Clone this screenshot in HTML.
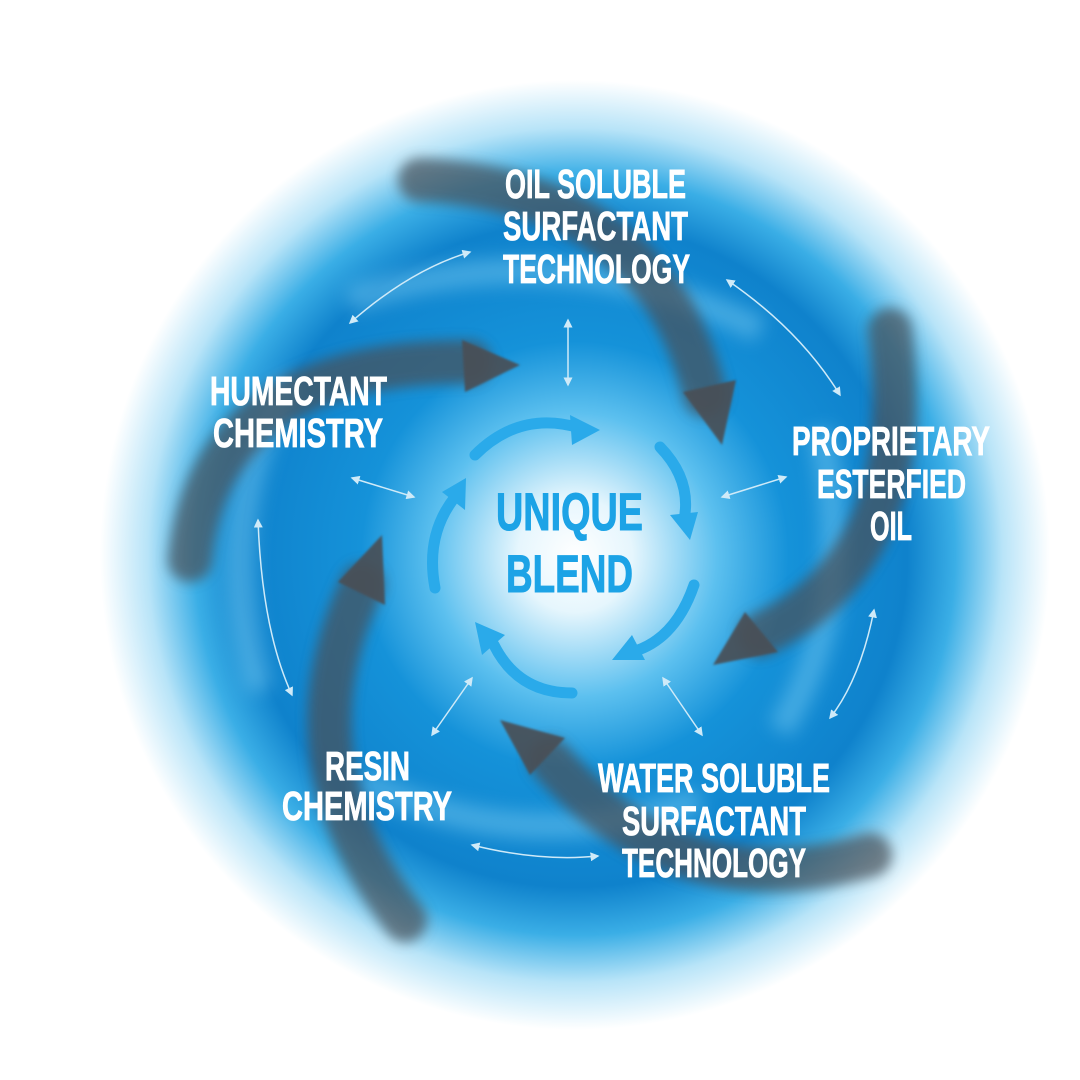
<!DOCTYPE html>
<html><head><meta charset="utf-8"><style>
html,body{margin:0;padding:0;background:#fff;width:1080px;height:1080px;overflow:hidden}
svg{display:block}
.t{font-family:"Liberation Sans",sans-serif;font-weight:bold;fill:#fff;font-size:41px;stroke:#fff;stroke-width:0.8}
.u{font-family:"Liberation Sans",sans-serif;font-weight:bold;fill:#1ca3e6;font-size:53px;stroke:#1ca3e6;stroke-width:1}
</style></head><body>
<svg width="1080" height="1080" viewBox="0 0 1080 1080" xmlns="http://www.w3.org/2000/svg">
<defs>
<radialGradient id="bg" cx="575" cy="555" r="475" gradientUnits="userSpaceOnUse">
<stop offset="0" stop-color="#ffffff"/>
<stop offset="0.12" stop-color="#e6f6fd"/>
<stop offset="0.3" stop-color="#5cc0ef"/>
<stop offset="0.45" stop-color="#1592d9"/>
<stop offset="0.7" stop-color="#0f82cc"/>
<stop offset="0.8" stop-color="#3aaee6"/>
<stop offset="0.9" stop-color="#b8e4f8"/>
<stop offset="1" stop-color="#ffffff"/>
</radialGradient>
<filter id="b8" x="-20%" y="-20%" width="140%" height="140%"><feGaussianBlur stdDeviation="9"/></filter>
<filter id="b5" x="-20%" y="-20%" width="140%" height="140%"><feGaussianBlur stdDeviation="6"/></filter>
<filter id="b1"><feGaussianBlur stdDeviation="1"/></filter>
<marker id="m" markerWidth="6" markerHeight="6" refX="5" refY="3" orient="auto-start-reverse"><path d="M0,0 L6,3 L0,6 z" fill="#cfeaf8"/></marker>
</defs>
<rect width="1080" height="1080" fill="#fff"/>
<circle cx="575" cy="555" r="475" fill="url(#bg)"/>
<g fill="none" stroke="#7fd0f5" stroke-width="26" opacity="0.45" filter="url(#b8)">
<path d="M350,300 Q560,230 760,330"/>
<path d="M820,430 Q860,600 780,730"/>
<path d="M700,800 Q520,860 360,780"/>
<path d="M260,690 Q210,520 290,380"/>
</g>
<!-- dark swirl bodies -->
<g fill="none" stroke="#4a4f56" stroke-width="44" opacity="0.7" filter="url(#b5)" stroke-linecap="round">
<path d="M420,180 Q655,190 705,395"/>
<path d="M890,330 Q920,560 760,635"/>
<path d="M870,855 Q680,910 550,760"/>
<path d="M405,920 Q280,760 362,585"/>
<path d="M190,560 Q210,360 470,362"/>
</g>
<!-- dark arrowheads -->
<g fill="#4a4f56" opacity="0.92" filter="url(#b1)">
<polygon points="722,445 683,392 736,380"/>
<polygon points="713,665 745,612 778,652"/>
<polygon points="500,720 565,738 530,775"/>
<polygon points="382,535 385,605 338,582"/>
<polygon points="520,365 462,340 465,392"/>
</g>
<!-- inner light arrows -->
<g fill="none" stroke="#2aaaea" stroke-width="11" stroke-linecap="round">
<path d="M475,455 Q520,410 580,428"/>
<path d="M660,447 Q692,480 684,520"/>
<path d="M694,585 Q675,640 632,652"/>
<path d="M572,693 Q518,693 494,645"/>
<path d="M435,588 Q425,535 455,497"/>
</g>
<g fill="#2aaaea">
<polygon points="600,430 570,415 572,445"/>
<polygon points="690,540 670,515 698,512"/>
<polygon points="612,660 632,635 645,660"/>
<polygon points="475,622 505,635 482,655"/>
<polygon points="466,478 465,510 442,492"/>
</g>
<g stroke="#cfeaf8" stroke-width="1.5" fill="none" marker-start="url(#m)" marker-end="url(#m)">
<path d="M350,323 Q410,270 470,252"/>
<path d="M568,320 L568,385"/>
<path d="M727,280 Q800,330 840,395"/>
<path d="M352,478 L414,497"/>
<path d="M722,497 L786,477"/>
<path d="M258,520 Q262,630 292,695"/>
<path d="M874,610 Q860,680 830,718"/>
<path d="M472,678 L432,735"/>
<path d="M663,678 L702,735"/>
<path d="M472,845 Q540,862 598,856"/>
</g>
<text class="t" x="505" y="198" textLength="181" lengthAdjust="spacingAndGlyphs">OIL SOLUBLE</text>
<text class="t" x="503" y="240" textLength="185" lengthAdjust="spacingAndGlyphs">SURFACTANT</text>
<text class="t" x="503" y="283" textLength="187" lengthAdjust="spacingAndGlyphs">TECHNOLOGY</text>
<text class="t" x="210" y="405" textLength="177" lengthAdjust="spacingAndGlyphs">HUMECTANT</text>
<text class="t" x="213" y="447" textLength="170" lengthAdjust="spacingAndGlyphs">CHEMISTRY</text>
<text class="t" x="792" y="455" textLength="198" lengthAdjust="spacingAndGlyphs">PROPRIETARY</text>
<text class="t" x="817" y="498" textLength="149" lengthAdjust="spacingAndGlyphs">ESTERFIED</text>
<text class="t" x="870" y="540" textLength="42" lengthAdjust="spacingAndGlyphs">OIL</text>
<text class="t" x="325" y="780" textLength="85" lengthAdjust="spacingAndGlyphs">RESIN</text>
<text class="t" x="282" y="820" textLength="170" lengthAdjust="spacingAndGlyphs">CHEMISTRY</text>
<text class="t" x="598" y="792" textLength="232" lengthAdjust="spacingAndGlyphs">WATER SOLUBLE</text>
<text class="t" x="622" y="835" textLength="184" lengthAdjust="spacingAndGlyphs">SURFACTANT</text>
<text class="t" x="622" y="877" textLength="184" lengthAdjust="spacingAndGlyphs">TECHNOLOGY</text>
<text class="u" x="496" y="530" textLength="147" lengthAdjust="spacingAndGlyphs">UNIQUE</text>
<text class="u" x="506" y="592" textLength="127" lengthAdjust="spacingAndGlyphs">BLEND</text>
</svg>
</body></html>
